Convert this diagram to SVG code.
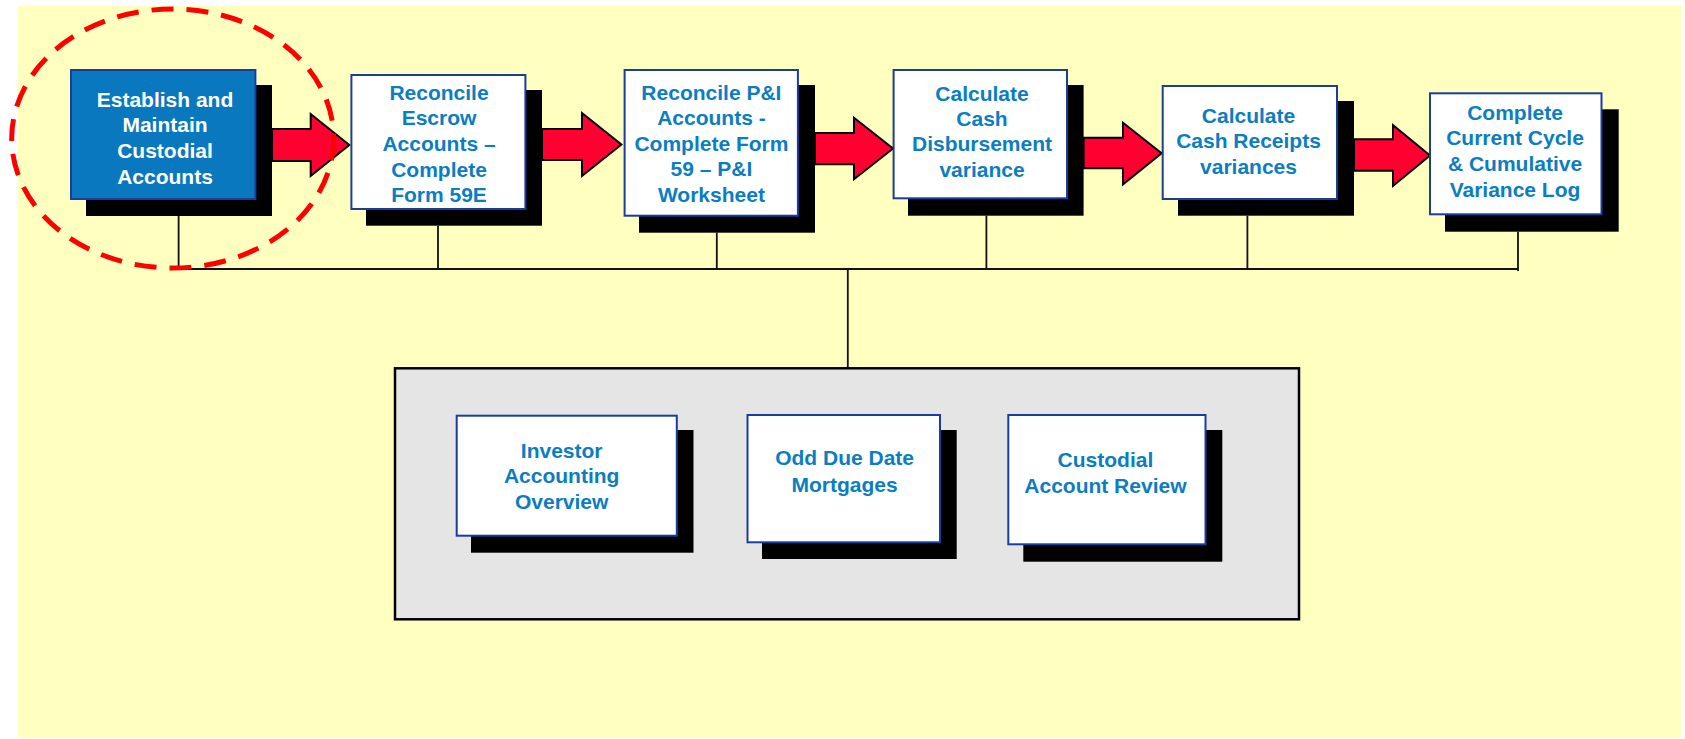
<svg xmlns="http://www.w3.org/2000/svg" width="1685" height="739" viewBox="0 0 1685 739">
<style>
.shadow{fill:#000}
.box{fill:#fff;stroke:#1a3c9e;stroke-width:2}
.boxb{fill:#0a78be;stroke:#1a3c9e;stroke-width:2}
.t{font-family:"Liberation Sans",Arial,sans-serif;font-weight:bold;font-size:21px;text-anchor:middle;fill:#0b7dc1}
.tw{fill:#fff}
.arrow{fill:#ff0030;stroke:#000;stroke-width:2;stroke-linejoin:miter}
.conn{stroke:#111;stroke-width:1.8;fill:none}
</style>
<rect x="0" y="0" width="1685" height="739" fill="#fff"/>
<rect x="18" y="6" width="1664" height="731" fill="#ffffc0"/>

<g id="connectors">
<path class="conn" d="M178.6,216 V269 M438,225.7 V269 M716.8,232.7 V269 M986.4,215.7 V269 M1247.4,215.7 V269 M1518,231.7 V271 M178.6,269 H1518 M847.8,269 V368"/>
<polygon class="arrow" points="272,129 310.7,129 310.7,114 349.3,145 310.7,176 310.7,161 272,161"/>
<polygon class="arrow" points="542,129 582,129 582,113 621.4,144.5 582,176 582,160 542,160"/>
<polygon class="arrow" points="815,133 854,133 854,117.7 893,148.5 854,179.3 854,164.3 815,164.3"/>
<polygon class="arrow" points="1083.6,137.7 1123,137.7 1123,122.7 1161.6,153.3 1123,184.3 1123,168.3 1083.6,168.3"/>
<polygon class="arrow" points="1354,139.3 1393,139.3 1393,125 1430,155.5 1393,186 1393,170.7 1354,170.7"/>
</g>

<g id="node-establish">
<rect class="shadow" x="86" y="85" width="186" height="131"/>
<rect class="boxb" x="71" y="70" width="184.4" height="129"/>
<text class="t tw" x="165" y="106.5"><tspan x="165">Establish and</tspan><tspan x="165" dy="25.7">Maintain</tspan><tspan x="165" dy="25.7">Custodial</tspan><tspan x="165" dy="25.7">Accounts</tspan></text>
</g>

<g id="node-escrow">
<rect class="shadow" x="366" y="90" width="176" height="135.7"/>
<rect class="box" x="351.4" y="75" width="174" height="134"/>
<text class="t" x="439" y="99.5"><tspan x="439">Reconcile</tspan><tspan x="439" dy="25.7">Escrow</tspan><tspan x="439" dy="25.7">Accounts –</tspan><tspan x="439" dy="25.7">Complete</tspan><tspan x="439" dy="25.7">Form 59E</tspan></text>
</g>

<g id="node-pi">
<rect class="shadow" x="639" y="85" width="176" height="147.7"/>
<rect class="box" x="624.6" y="70" width="173.3" height="145.7"/>
<text class="t" x="711.4" y="99.8"><tspan x="711.4">Reconcile P&amp;I</tspan><tspan x="711.4" dy="25.5">Accounts -</tspan><tspan x="711.4" dy="25.5">Complete Form</tspan><tspan x="711.4" dy="25.5">59 – P&amp;I</tspan><tspan x="711.4" dy="25.5">Worksheet</tspan></text>
</g>

<g id="node-disb">
<rect class="shadow" x="908" y="85" width="175.6" height="130.7"/>
<rect class="box" x="893.6" y="70" width="173.4" height="128.3"/>
<text class="t" x="982" y="100.8"><tspan x="982">Calculate</tspan><tspan x="982" dy="25.3">Cash</tspan><tspan x="982" dy="25.3">Disbursement</tspan><tspan x="982" dy="25.3">variance</tspan></text>
</g>

<g id="node-receipts">
<rect class="shadow" x="1178" y="101" width="176" height="114.7"/>
<rect class="box" x="1162.7" y="86" width="174.3" height="113"/>
<text class="t" x="1248.5" y="122.5"><tspan x="1248.5">Calculate</tspan><tspan x="1248.5" dy="25.5">Cash Receipts</tspan><tspan x="1248.5" dy="25.5">variances</tspan></text>
</g>

<g id="node-log">
<rect class="shadow" x="1445" y="109.3" width="173.7" height="122.4"/>
<rect class="box" x="1430" y="93.3" width="171.5" height="121"/>
<text class="t" x="1515" y="119.5"><tspan x="1515">Complete</tspan><tspan x="1515" dy="25.7">Current Cycle</tspan><tspan x="1515" dy="25.7">&amp; Cumulative</tspan><tspan x="1515" dy="25.7">Variance Log</tspan></text>
</g>

<g id="group-box">
<rect x="395" y="368.3" width="904" height="251" fill="#e5e5e5" stroke="#000" stroke-width="2.5"/>
</g>

<g id="node-investor">
<rect class="shadow" x="471" y="430" width="222.5" height="122.7"/>
<rect class="box" x="456.7" y="415.7" width="220.1" height="120"/>
<text class="t" x="561.7" y="457.5"><tspan x="561.7">Investor</tspan><tspan x="561.7" dy="25.8">Accounting</tspan><tspan x="561.7" dy="25.8">Overview</tspan></text>
</g>

<g id="node-odd">
<rect class="shadow" x="762" y="430" width="194.7" height="129"/>
<rect class="box" x="747.5" y="415" width="192.5" height="127.3"/>
<text class="t" x="844.6" y="465"><tspan x="844.6">Odd Due Date</tspan><tspan x="844.6" dy="26.6">Mortgages</tspan></text>
</g>

<g id="node-review">
<rect class="shadow" x="1023.3" y="430" width="199" height="131.7"/>
<rect class="box" x="1008.3" y="415" width="197.2" height="129.3"/>
<text class="t" x="1105.4" y="467"><tspan x="1105.4">Custodial</tspan><tspan x="1105.4" dy="26">Account Review</tspan></text>
</g>

<g id="highlight">
<ellipse cx="172.7" cy="138.5" rx="161" ry="129.5" fill="none" stroke="#ff0000" stroke-width="5" stroke-dasharray="22 13"/>
</g>
</svg>
